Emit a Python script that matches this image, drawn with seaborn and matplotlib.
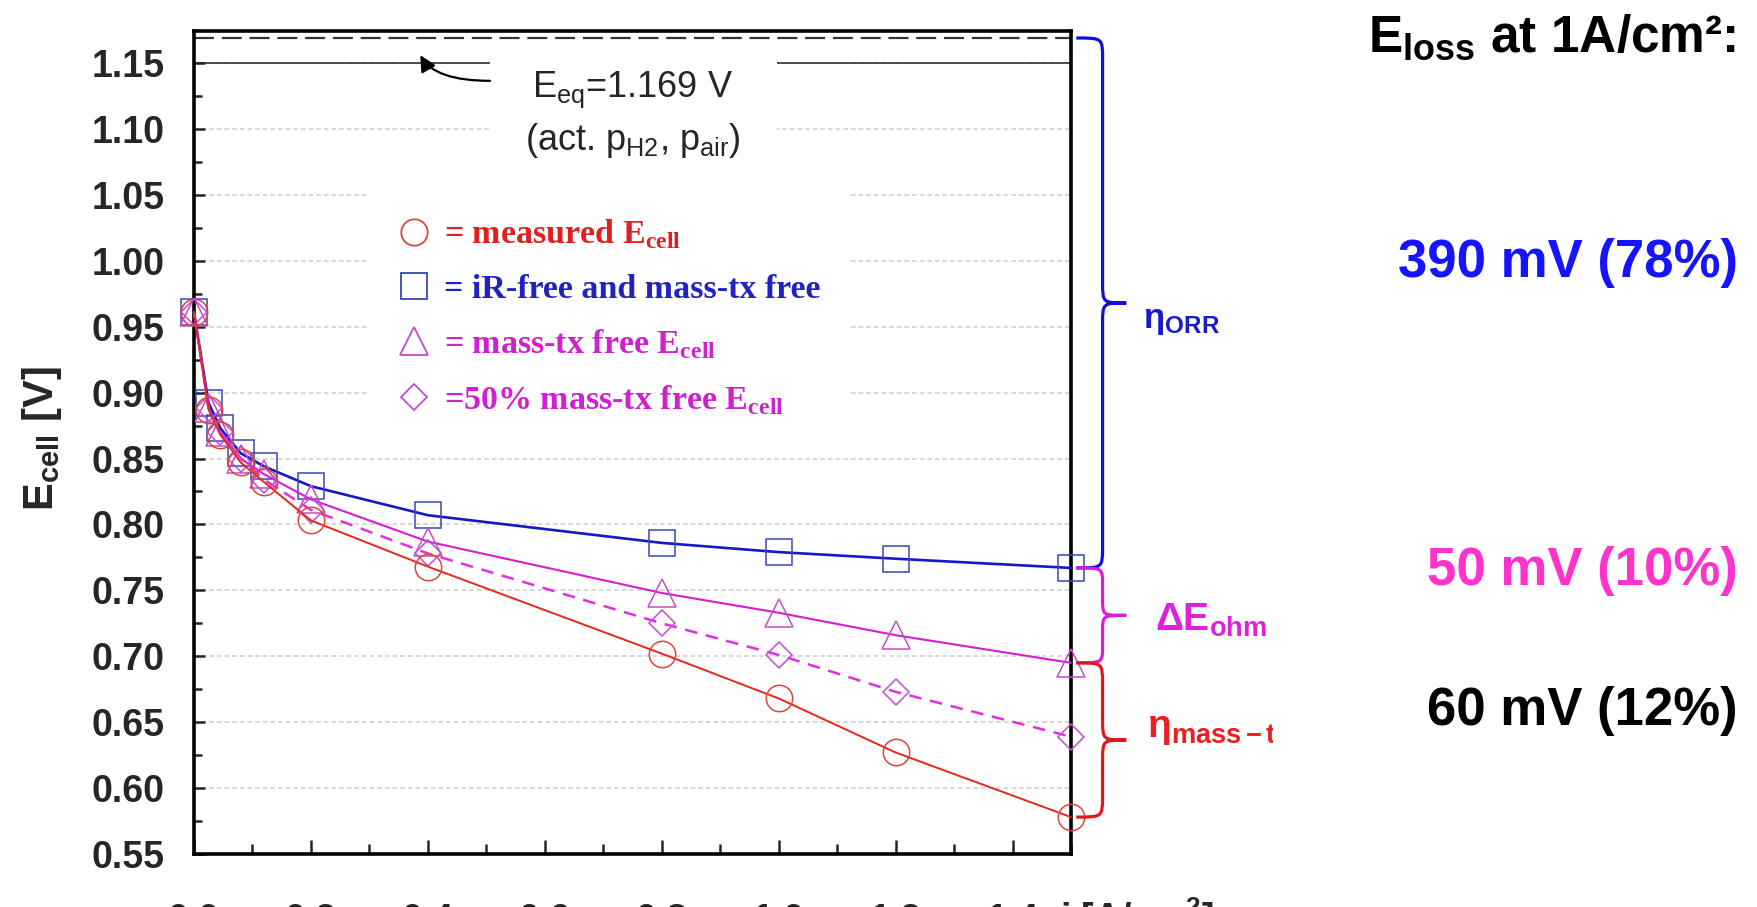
import numpy as np
import pandas as pd
import matplotlib
matplotlib.use("Agg")
import matplotlib.pyplot as plt
import seaborn as sns
from matplotlib.lines import Line2D
from matplotlib.patches import Rectangle, PathPatch
from matplotlib.path import Path
from matplotlib.transforms import blended_transform_factory, Bbox, TransformedBbox
from matplotlib.ticker import FixedLocator, FormatStrFormatter
from matplotlib.font_manager import FontProperties

# ---- data -------------------------------------------------------------
current = [0.0, 0.025, 0.045, 0.08, 0.12, 0.2, 0.4, 0.8, 1.0, 1.2, 1.5]
e_ir_mt_free = [0.961, 0.892, 0.873, 0.854, 0.844, 0.829, 0.807, 0.786, 0.779, 0.774, 0.767]
e_mt_free = [0.961, 0.888, 0.870, 0.850, 0.838, 0.819, 0.787, 0.748, 0.733, 0.716, 0.695]
e_half_mt_free = [0.961, 0.888, 0.870, 0.850, 0.834, 0.811, 0.778, 0.725, 0.701, 0.673, 0.639]
e_measured = [0.961, 0.887, 0.868, 0.847, 0.832, 0.803, 0.768, 0.702, 0.668, 0.627, 0.578]
e_eq = 1.169

y_ticks = [0.55, 0.60, 0.65, 0.70, 0.75, 0.80, 0.85, 0.90, 0.95, 1.00, 1.05, 1.10, 1.15]
x_ticks = [0.0, 0.2, 0.4, 0.6, 0.8, 1.0, 1.2, 1.4]

legend_labels = [
    r"= measured E$_{\mathrm{cell}}$",
    "= iR-free and mass-tx free",
    r"= mass-tx free E$_{\mathrm{cell}}$",
    r"=50% mass-tx free E$_{\mathrm{cell}}$",
]
loss_title = r"E$_{\mathsf{loss}}$ at 1A/cm²:"
loss_labels = ["390 mV (78%)", "50 mV (10%)", "60 mV (12%)"]

# ---- style ------------------------------------------------------------
sns.set_style("white")
plt.rcParams["font.family"] = ["Liberation Sans", "DejaVu Sans"]
plt.rcParams["mathtext.fontset"] = "custom"
plt.rcParams["mathtext.rm"] = "Liberation Serif:bold"
plt.rcParams["mathtext.sf"] = "Liberation Sans:bold"
plt.rcParams["mathtext.tt"] = "Liberation Sans"
plt.rcParams["mathtext.it"] = "Liberation Sans:italic"
plt.rcParams["mathtext.bf"] = "Liberation Sans:bold"

BLUE_LINE, BLUE_MK = "#1717c8", "#3848b8"
MAG_LINE, MAG_MK = "#d41ed4", "#c24ec8"
DASH_LINE, DASH_MK = "#e02ee0", "#c050d0"
RED_LINE, RED_MK = "#e8261e", "#d9473f"

fig = plt.figure(figsize=(17.58, 9.07), dpi=100)
fig.subplots_adjust(left=194 / 1758, right=1071 / 1758, bottom=1 - 854 / 907, top=1 - 31 / 907)
ax = fig.add_subplot(111)

ax.set_xlim(0, 1.5)
ax.set_ylim(0.55, 1.1743)

# grid + reference lines
ax.set_axisbelow(True)
ax.yaxis.grid(True, which="major", color="#cdcdcd", linestyle=(0, (3, 2)), linewidth=1.1)
ax.axhline(e_eq, color="#333333", lw=1.6, ls=(0, (9, 3.5)), zorder=2)
ax.axhline(1.15, color="#222222", lw=1.1, zorder=2)

blend = blended_transform_factory(ax.transAxes, ax.transData)

# ---- series -----------------------------------------------------------
df = pd.DataFrame({
    "i": current,
    "ir_mt_free": e_ir_mt_free,
    "mt_free": e_mt_free,
    "half_mt_free": e_half_mt_free,
    "measured": e_measured,
})

series = [
    ("ir_mt_free", BLUE_LINE, BLUE_MK, "s", 19, "-", 1.9),
    ("mt_free", MAG_LINE, MAG_MK, "^", 20, "-", 1.5),
    ("half_mt_free", DASH_LINE, DASH_MK, "D", 13.5, (0, (5, 3.5)), 1.8),
    ("measured", RED_LINE, RED_MK, "o", 19, "-", 1.4),
]
for col, lc, mc, mk, ms, ls, lw in series:
    sns.lineplot(data=df, x="i", y=col, ax=ax, color=lc, linewidth=lw, linestyle=ls,
                 marker=mk, markersize=ms, markerfacecolor="none", markeredgecolor=mc,
                 markeredgewidth=1.1, clip_on=False, zorder=3, legend=False)

# ---- axes cosmetics ---------------------------------------------------
ax.yaxis.set_major_locator(FixedLocator(y_ticks))
ax.yaxis.set_minor_locator(FixedLocator([t + 0.025 for t in y_ticks[:-1]]))
ax.yaxis.set_major_formatter(FormatStrFormatter("%.2f"))
ax.xaxis.set_major_locator(FixedLocator(x_ticks))
ax.xaxis.set_minor_locator(FixedLocator([t + 0.1 for t in x_ticks]))
ax.xaxis.set_major_formatter(FormatStrFormatter("%.1f"))

ax.tick_params(axis="y", which="major", direction="in", length=8, width=1.8, pad=21,
               labelsize=27, left=True)
ax.tick_params(axis="y", which="minor", direction="in", length=6, width=1.8, left=True)
ax.tick_params(axis="x", which="major", direction="in", length=10, width=1.8, pad=35,
               labelsize=27, bottom=True)
ax.tick_params(axis="x", which="minor", direction="in", length=7, width=1.8, bottom=True)
for lab in ax.get_xticklabels() + ax.get_yticklabels():
    lab.set_fontweight("bold")

for side in ["left", "right", "top", "bottom"]:
    ax.spines[side].set_visible(True)
    ax.spines[side].set_color("black")
    ax.spines[side].set_linewidth(2.6)

ax.set_ylabel(r"E$_{\mathsf{cell}}$ [V]", fontsize=30, fontweight="bold", va="center")
ax.yaxis.set_label_coords(-0.173, 0.505)
ax.set_xlabel(r"i [A/cm$^{\mathsf{2}}$]", fontsize=27, fontweight="bold", ha="left", va="top")
ax.xaxis.set_label_coords(0.987, -0.050)

# ---- equilibrium potential note --------------------------------------
ax.add_patch(Rectangle((0.3375, 1.0726), 0.3275, 0.0873, transform=blend,
                       facecolor="white", edgecolor="none", zorder=2.2))
ax.text(0.50, 1.130, f"E$_{{\\mathtt{{eq}}}}$={e_eq:.3f} V", transform=blend,
        ha="center", va="center", fontsize=26, zorder=6)
ax.text(0.50, 1.091, r"(act. p$_{\mathtt{H2}}$, p$_{\mathtt{air}}$)", transform=blend,
        ha="center", va="center", fontsize=26, zorder=6)
ax.annotate("", xy=(0.258, 1.156), xytext=(0.3375, 1.1365), xycoords=blend, textcoords=blend,
            arrowprops=dict(arrowstyle="-|>", connectionstyle="angle3,angleA=0,angleB=120",
                            color="black", lw=1.6, mutation_scale=24, shrinkA=0, shrinkB=0),
            zorder=6)

# ---- legend -----------------------------------------------------------
handles = [
    Line2D([], [], ls="none", marker="o", ms=19, mfc="none", mec=RED_MK, mew=1.3),
    Line2D([], [], ls="none", marker="s", ms=19, mfc="none", mec=BLUE_MK, mew=1.3),
    Line2D([], [], ls="none", marker="^", ms=20, mfc="none", mec=MAG_MK, mew=1.3),
    Line2D([], [], ls="none", marker="D", ms=13.5, mfc="none", mec=DASH_MK, mew=1.3),
]
leg = ax.legend(handles, legend_labels, loc="upper left", bbox_to_anchor=(0.198, 0.808),
                borderaxespad=0, frameon=True, fancybox=False, edgecolor="none",
                facecolor="white", framealpha=1,
                prop=FontProperties(family="Liberation Serif", weight="bold", size=24.5),
                labelcolor=["#e02020", "#2222c0", "#d020d0", "#d020d0"],
                handlelength=1.0, handletextpad=0.4, borderpad=0.85, labelspacing=0.66)
leg.set_zorder(5)

# ---- braces on the right-hand side -----------------------------------
def brace(y_top, y_bot, color, x0=1.006, xv=1.036, xt=1.063, lw=2.3):
    y_tip = 0.5 * (y_top + y_bot)
    r = min(0.016, (y_top - y_bot) / 6)
    verts = [
        (x0, y_top),
        (xv, y_top), (xv, y_top), (xv, y_top - r),
        (xv, y_tip + r),
        (xv, y_tip), (xv, y_tip), (xt, y_tip),
        (xv, y_tip), (xv, y_tip), (xv, y_tip - r),
        (xv, y_bot + r),
        (xv, y_bot), (xv, y_bot), (x0, y_bot),
    ]
    codes = [Path.MOVETO,
             Path.CURVE4, Path.CURVE4, Path.CURVE4,
             Path.LINETO,
             Path.CURVE4, Path.CURVE4, Path.CURVE4,
             Path.CURVE4, Path.CURVE4, Path.CURVE4,
             Path.LINETO,
             Path.CURVE4, Path.CURVE4, Path.CURVE4]
    ax.add_patch(PathPatch(Path(verts, codes), transform=blend, facecolor="none",
                           edgecolor=color, lw=lw, clip_on=False, zorder=4))
    return y_tip

brace(e_eq, e_ir_mt_free[-1], "#1010d8")
brace(e_ir_mt_free[-1], e_mt_free[-1], "#d81cd8")
brace(e_mt_free[-1], e_measured[-1], "#e01818")

clip = TransformedBbox(Bbox([[0, 0], [1273 / 1758, 1]]), fig.transFigure)
for x, y, s, c, fs in [
    (1.082, 0.955, r"η$_{\mathsf{ORR}}$", "#1a1acc", 25),
    (1.096, 0.727, r"ΔE$_{\mathsf{ohm}}$", "#dd22dd", 28),
    (1.087, 0.645, r"η$_{\mathsf{mass-tx}}$", "#e82020", 28),
]:
    t = ax.text(x, y, s, transform=blend, ha="left", va="center", fontsize=fs,
                fontweight="bold", color=c, clip_on=True, zorder=6)
    t.set_clip_box(clip)

# ---- summary on the right --------------------------------------------
fig.text(1736 / 1758, 1 - 52 / 907, loss_title, ha="right", va="baseline",
         fontsize=37, fontweight="bold", color="black")
for s, yc, c in zip(loss_labels, [263, 571, 711], ["#1414ff", "#ff33cc", "black"]):
    fig.text(1738 / 1758, 1 - yc / 907, s, ha="right", va="center",
             fontsize=38, fontweight="bold", color=c)

fig.savefig("out.png", dpi=100)
